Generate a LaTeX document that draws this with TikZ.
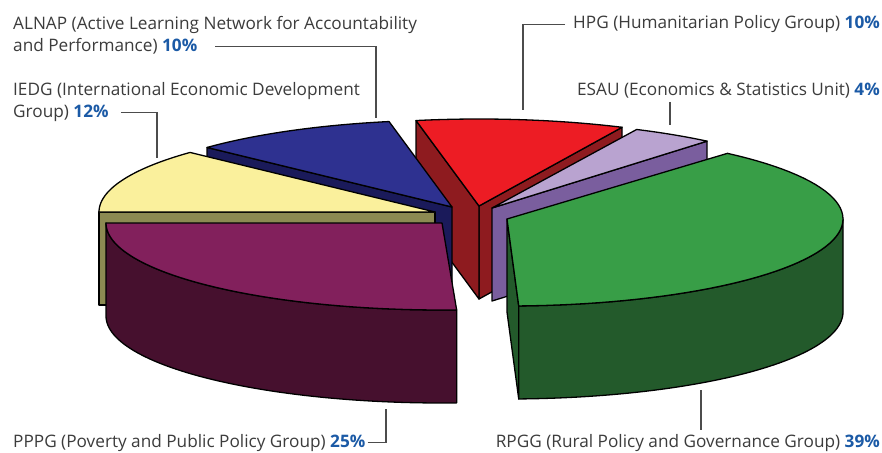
\documentclass[tikz,border=0pt]{standalone}
\usepackage{fontspec}
\setmainfont{Open Sans}
\usetikzlibrary{positioning}

\definecolor{txtgray}{HTML}{3C3C3C}
\definecolor{pctblue}{HTML}{1B5AA6}
\definecolor{hpgtop}{HTML}{ED1C24}
\definecolor{hpgside}{HTML}{8E1B1F}
\definecolor{alnaptop}{HTML}{2E3190}
\definecolor{alnapside}{HTML}{1A1A5A}
\definecolor{esautop}{HTML}{B9A3D0}
\definecolor{esauside}{HTML}{7A5E9E}
\definecolor{iedgtop}{HTML}{FAF09C}
\definecolor{iedgside}{HTML}{8C8A52}
\definecolor{rpggtop}{HTML}{389E47}
\definecolor{rpggside}{HTML}{235A2B}
\definecolor{pppgtop}{HTML}{82205C}
\definecolor{pppgside}{HTML}{46102E}

\newcommand{\pct}[1]{\textcolor{pctblue}{\bfseries #1\%}}

% pie radii and thickness
\newcommand{\ra}{336}
\newcommand{\rb}{87}
\newcommand{\pieh}{93}

% top of a slice: x, y, from, to, colour
\newcommand{\slicetop}[5]{\filldraw[face,fill=#5] (#1,#2) -- plot[domain=#3:#4] ({#1+\ra*cos(\x)},{#2-\rb*sin(\x)}) -- cycle;}
% outer wall
\newcommand{\slicerim}[5]{\filldraw[face,fill=#5] plot[domain=#3:#4] ({#1+\ra*cos(\x)},{#2-\rb*sin(\x)}) -- plot[domain=#4:#3] ({#1+\ra*cos(\x)},{#2+\pieh-\rb*sin(\x)}) -- cycle;}
% cut wall under the edge at angle #3
\newcommand{\slicecut}[4]{\filldraw[face,fill=#4] (#1,#2) -- ({#1+\ra*cos(#3)},{#2-\rb*sin(#3)}) -- ++(0,\pieh) -- (#1,#2+\pieh) -- cycle;}

\begin{document}
\begin{tikzpicture}[x=1pt,y=-1pt,
  face/.style={draw=black,line width=1.3pt,line join=round,samples=60},
  lbl/.style={font=\fontsize{17.2}{20}\selectfont,text=txtgray,inner sep=0pt},
  leader/.style={draw=black!70,line width=1.1pt}]
  \useasboundingbox[fill=white] (0,0) rectangle (882,452);

  % HPG
  \slicecut{479}{206}{64.8}{hpgside}
  \slicecut{479}{206}{100.8}{hpgside}
  \slicetop{479}{206}{64.8}{100.8}{hpgtop}
  % ALNAP
  \slicecut{452}{207}{136.8}{alnapside}
  \slicetop{452}{207}{100.8}{136.8}{alnaptop}
  % ESAU
  \slicecut{492}{208}{50.2}{esauside}
  \slicetop{492}{208}{50.2}{64.5}{esautop}
  % IEDG
  \slicecut{435}{212}{180}{iedgside}
  \slicetop{435}{212}{136.8}{180}{iedgtop}
  % RPGG
  \slicecut{507}{219}{272}{rpggside}
  \slicerim{507}{219}{272}{360}{rpggside}
  \slicetop{507}{219}{272}{409}{rpggtop}
  % PPPG
  \slicerim{442}{223}{180}{272.5}{pppgside}
  \slicetop{442}{223}{180}{272.5}{pppgtop}

  % labels
  \node[lbl,anchor=base west] (alnapA) at (13,29.5) {ALNAP (Active Learning Network for Accountability};
  \node[lbl,anchor=base west] (alnapB) at (13,52) {and Performance) \pct{10}};
  \node[lbl,anchor=base west] (iedgA) at (13,95) {IEDG (International Economic Development};
  \node[lbl,anchor=base west] (iedgB) at (13,117) {Group) \pct{12}};
  \node[lbl,anchor=base east] (hpg) at (880,29) {HPG (Humanitarian Policy Group) \pct{10}};
  \node[lbl,anchor=base east] (esau) at (880,95) {ESAU (Economics \& Statistics Unit) \pct{4}};
  \node[lbl,anchor=base west] (pppg) at (13,447) {PPPG (Poverty and Public Policy Group) \pct{25}};
  \node[lbl,anchor=base east] (rpgg) at (880,447) {RPGG (Rural Policy and Governance Group) \pct{39}};

  \coordinate (alnapPt) at (376,118);
  \coordinate (iedgPt) at (157,158);
  \coordinate (hpgPt) at (523,110);
  \coordinate (esauPt) at (670,125);
  \coordinate (pppgPt) at (386,409);
  \coordinate (rpggPt) at (701,390);

  \draw[leader] ([xshift=18pt]alnapB.east) -| (alnapPt);
  \draw[leader] ([xshift=12pt]iedgB.east) -| (iedgPt);
  \draw[leader] ([xshift=-8pt]hpg.west) -| (hpgPt);
  \draw[leader] ([yshift=-4pt]esau.south -| esauPt) -- (esauPt);
  \draw[leader] ([xshift=2pt]pppg.east) -| (pppgPt);
  \draw[leader] ([yshift=4pt]rpgg.north -| rpggPt) -- (rpggPt);
\end{tikzpicture}
\end{document}
